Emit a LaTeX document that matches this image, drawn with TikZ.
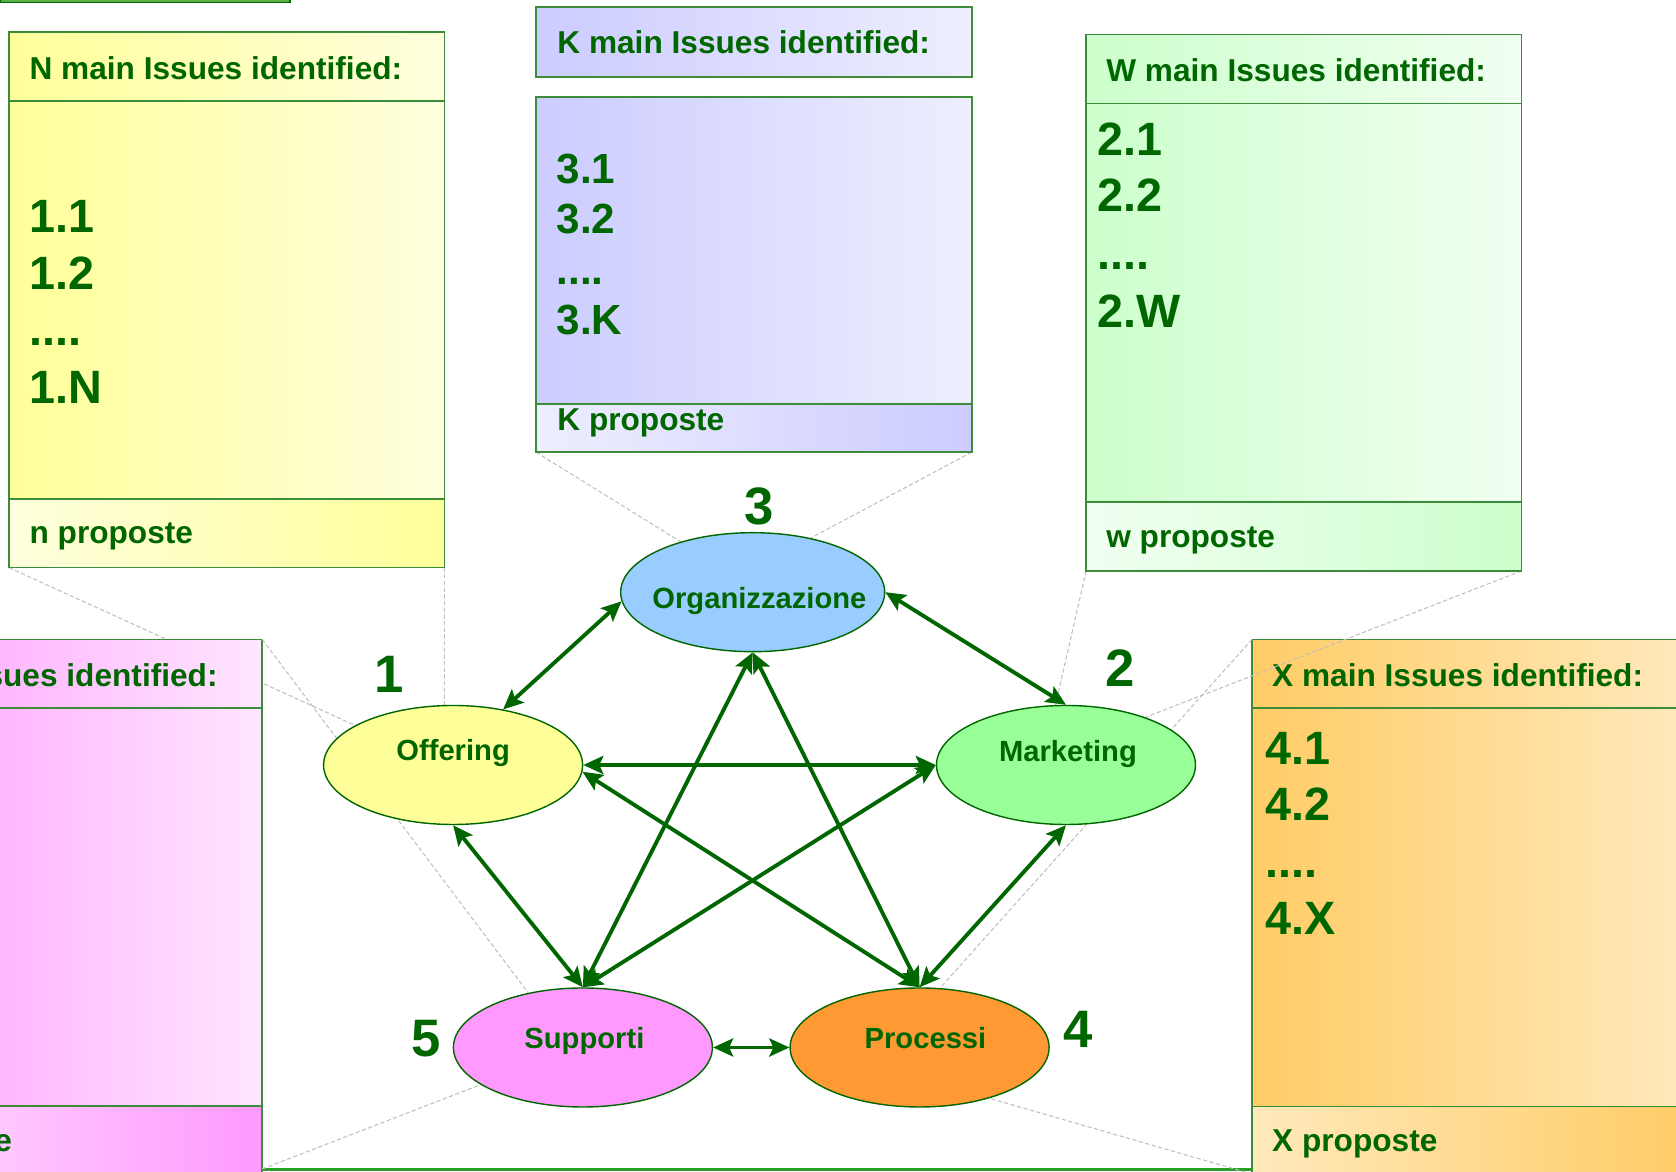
\documentclass[tikz,border=0pt]{standalone}
\usepackage{fontspec}
\setmainfont{Liberation Sans}
\usetikzlibrary{arrows.meta,backgrounds,shapes.geometric}

\definecolor{txtgreen}{RGB}{0,102,0}
\definecolor{boxline}{RGB}{60,140,60}
\definecolor{stripgreen}{RGB}{90,175,70}
\definecolor{botgreen}{RGB}{40,160,40}
\definecolor{nyel}{RGB}{255,255,153}\definecolor{nyell}{RGB}{255,255,222}
\definecolor{kblu}{RGB}{204,204,255}\definecolor{kblul}{RGB}{238,238,255}
\definecolor{wgrn}{RGB}{204,255,204}\definecolor{wgrnl}{RGB}{241,255,241}
\definecolor{ppnk}{RGB}{255,153,255}\definecolor{ppnkl}{RGB}{255,230,255}
\definecolor{xorg}{RGB}{255,204,102}\definecolor{xorgl}{RGB}{255,233,188}
\definecolor{orgfill}{RGB}{153,204,255}
\definecolor{offfill}{RGB}{255,255,153}
\definecolor{mktfill}{RGB}{153,255,153}
\definecolor{supfill}{RGB}{255,153,255}
\definecolor{profill}{RGB}{255,153,51}

\begin{document}
\begin{tikzpicture}[join=round, % five areas, each with its issue box
  bubble/.style={ellipse,draw=txtgreen,line width=0.4pt,minimum width=2.59cm,minimum height=1.19cm,inner sep=0pt},
  bubtxt/.style={anchor=base,inner sep=0pt,text=txtgreen,font=\fontsize{8.3}{10}\selectfont\bfseries},
  num/.style={inner sep=0pt,text=txtgreen,font=\fontsize{15}{18}\selectfont\bfseries},
  link/.style={<->,>={Stealth[length=2mm,width=1.8mm,inset=0.4mm]},draw=txtgreen,line width=1.1pt},
  callout/.style={draw=gray!50,line width=0.3pt,dash pattern=on 1.2pt off 0.7pt},
  boxpart/.style={draw=boxline,line width=0.5pt},
  head/.style={anchor=base west,inner sep=0pt,text=txtgreen,font=\fontsize{9}{11}\selectfont\bfseries},
  item/.style={anchor=base west,inner sep=0pt,text=txtgreen,font=\fontsize{13.3}{16}\selectfont\bfseries}]
\useasboundingbox (0,0) rectangle (16.76,11.72);

% the five areas
\node[bubble,fill=orgfill,minimum width=2.64cm] (org) at (7.527,5.798) {};
\node[bubble,fill=offfill] (off) at (4.531,4.07) {};
\node[bubble,fill=mktfill] (mkt) at (10.66,4.07) {};
\node[bubble,fill=supfill] (sup) at (5.829,1.245) {};
\node[bubble,fill=profill] (pro) at (9.196,1.245) {};
\path[nodes=bubtxt]
  (7.594,5.633) node (orgtxt) {Organizzazione}
  (4.531,4.114) node (offtxt) {Offering}
  (10.68,4.109) node (mkttxt) {Marketing}
  (5.844,1.238) node (suptxt) {Supporti}
  (9.255,1.238) node (protxt) {Processi};
\path[nodes=num]
  (3.894,4.972) node (num1) {1}
  (11.205,5.04) node (num2) {2}
  (7.594,6.653) node (num3) {3}
  (10.78,1.428) node (num4) {4}
  (4.263,1.337) node (num5) {5};

% every area linked with every other one
\draw[link] (off.48) -- (org.184);
\draw[link] (org.east) -- (mkt.north);
\draw[link] (off.east) -- (mkt.west);
\draw[link] (off.south) -- (sup.north);
\draw[link] (off.-3) -- (pro.north);
\draw[link] (org.south) -- (sup.north);
\draw[link] (org.south) -- (pro.north);
\draw[link] (mkt.west) -- (sup.north);
\draw[link] (mkt.south) -- (pro.north);
\draw[link] (sup.east) -- (pro.west);

\begin{scope}[on background layer]
  \filldraw[fill=stripgreen,draw=txtgreen,line width=0.4pt] (0,11.693) rectangle (2.90,11.76);
  \draw[draw=botgreen,line width=0.7pt] (2.622,0.025) -- (12.52,0.025);
  \coordinate (nbl) at (0.09,6.044);  \coordinate (nbr) at (4.445,6.044);
  \coordinate (kbl) at (5.36,7.198);  \coordinate (kbr) at (9.717,7.198);
  \coordinate (wbl) at (10.862,6.011); \coordinate (wbr) at (15.216,6.011);
  \coordinate (xtl) at (12.52,5.326); \coordinate (xbl) at (12.52,-0.02);
  \coordinate (ptr) at (2.622,5.326); \coordinate (pbr) at (2.622,0.03);
  \draw[callout] (nbl) -- (off.158);
  \draw[callout] (nbr) -- (nbr |- off.center);

  % box of area 5 (cut by the page)
  \shadedraw[boxpart,left color=ppnk,right color=ppnkl] (-1.733,5.326) rectangle (2.622,4.643);
  \shadedraw[boxpart,left color=ppnk,right color=ppnkl] (-1.733,4.643) rectangle (2.622,0.658);
  \shadedraw[boxpart,left color=ppnkl,right color=ppnk] (-1.733,0.658) rectangle (2.622,-0.05);
  \node[head] (phead) at (-1.54,4.851) {Y main Issues identified:};
  \node[head] (pfoot) at (-1.54,0.2) {Y proposte};

  % box of area 4
  \shadedraw[boxpart,left color=xorg,right color=xorgl] (12.52,5.326) rectangle (16.875,4.64);
  \shadedraw[boxpart,left color=xorg,right color=xorgl] (12.52,4.64) rectangle (16.875,0.654);
  \shadedraw[boxpart,left color=xorgl,right color=xorg] (12.52,0.654) rectangle (16.875,-0.05);
  \node[head] (xhead) at (12.715,4.851) {X main Issues identified:};
  \path[nodes=item]
    (12.65,4.078) node (x1) {4.1}
    (12.65,3.512) node (x2) {4.2}
    (12.65,2.946) node (x3) {....}
    (12.65,2.37) node (x4) {4.X};
  \node[head] (xfoot) at (12.715,0.2) {X proposte};

  \draw[callout] (kbl) -- (org.145);
  \draw[callout] (kbr) -- (org.43);
  \draw[callout] (wbl) -- (mkt.100);
  \draw[callout] (wbr) -- (mkt.31);
  \draw[callout] (xtl) -- (pro.71);
  \draw[callout] (xbl) -- (pro.-36);
  \draw[callout] (ptr) -- (sup.135);
  \draw[callout] (pbr) -- (sup.200);

  % box of area 1
  \shadedraw[boxpart,left color=nyel,right color=nyell] (0.09,11.397) rectangle (4.445,10.713);
  \shadedraw[boxpart,left color=nyel,right color=nyell] (0.09,10.713) rectangle (4.445,6.728);
  \shadedraw[boxpart,left color=nyell,right color=nyel] (0.09,6.728) rectangle (4.445,6.044);
  \node[head] (nhead) at (0.289,10.927) {N main Issues identified:};
  \path[nodes=item]
    (0.289,9.393) node (n1) {1.1}
    (0.289,8.82) node (n2) {1.2}
    (0.289,8.26) node (n3) {....}
    (0.289,7.68) node (n4) {1.N};
  \node[head] (nfoot) at (0.289,6.28) {n proposte};

  % box of area 3
  \shadedraw[boxpart,left color=kblu,right color=kblul] (5.36,11.647) rectangle (9.717,10.953);
  \shadedraw[boxpart,left color=kblu,right color=kblul] (5.36,10.753) rectangle (9.717,7.68);
  \shadedraw[boxpart,left color=kblul,right color=kblu] (5.36,7.68) rectangle (9.717,7.198);
  \node[head] (khead) at (5.567,11.18) {K main Issues identified:};
  \path[nodes={item,font=\fontsize{12}{14}\selectfont\bfseries}]
    (5.56,9.887) node (k1) {3.1}
    (5.56,9.38) node (k2) {3.2}
    (5.56,8.877) node (k3) {....}
    (5.56,8.37) node (k4) {3.K};
  \node[head] (kfoot) at (5.567,7.413) {K proposte};

  % box of area 2
  \shadedraw[boxpart,left color=wgrn,right color=wgrnl] (10.862,11.375) rectangle (15.216,10.686);
  \shadedraw[boxpart,left color=wgrn,right color=wgrnl] (10.862,10.686) rectangle (15.216,6.70);
  \shadedraw[boxpart,left color=wgrnl,right color=wgrn] (10.862,6.70) rectangle (15.216,6.011);
  \node[head] (whead) at (11.056,10.908) {W main Issues identified:};
  \path[nodes=item]
    (10.97,10.168) node (w1) {2.1}
    (10.97,9.60) node (w2) {2.2}
    (10.97,9.02) node (w3) {....}
    (10.97,8.444) node (w4) {2.W};
  \node[head] (wfoot) at (11.056,6.24) {w proposte};
\end{scope}
\end{tikzpicture}
\end{document}
